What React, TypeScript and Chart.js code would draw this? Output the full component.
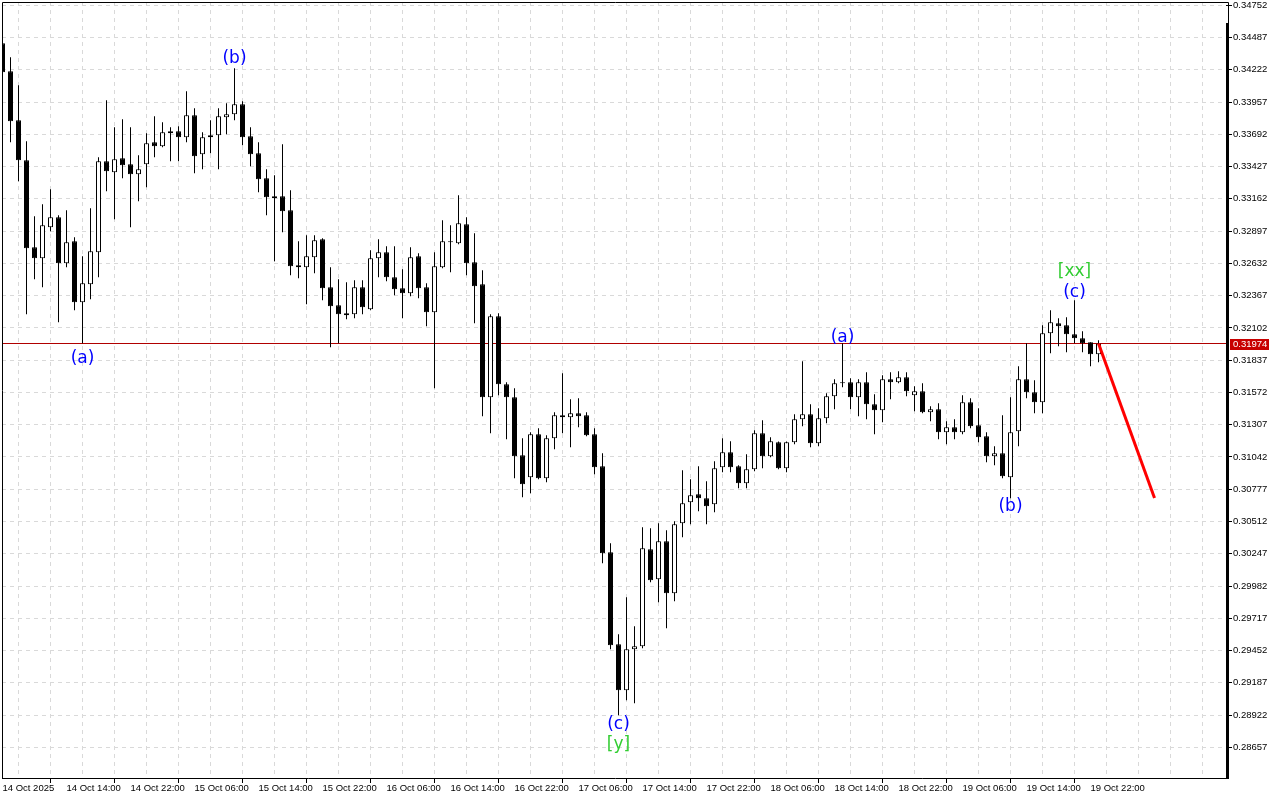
import React, { useEffect, useRef } from "react";
import { Chart, registerables } from "chart.js";

Chart.register(...registerables);

// x-axis labels, one every 8 hourly bars (bar 0 = 14 Oct 06:00)
const xTickLabels = [
  "14 Oct 2025", "14 Oct 14:00", "14 Oct 22:00", "15 Oct 06:00", "15 Oct 14:00",
  "15 Oct 22:00", "16 Oct 06:00", "16 Oct 14:00", "16 Oct 22:00", "17 Oct 06:00",
  "17 Oct 14:00", "17 Oct 22:00", "18 Oct 06:00", "18 Oct 14:00", "18 Oct 22:00",
  "19 Oct 06:00", "19 Oct 14:00", "19 Oct 22:00",
];

const yTickValues = [
  0.34752, 0.34487, 0.34222, 0.33957, 0.33692, 0.33427, 0.33162, 0.32897,
  0.32632, 0.32367, 0.32102, 0.31837, 0.31572, 0.31307, 0.31042, 0.30777,
  0.30512, 0.30247, 0.29982, 0.29717, 0.29452, 0.29187, 0.28922, 0.28657,
];

const opens = [
  0.34440, 0.34210, 0.33807, 0.33479, 0.32764, 0.32674, 0.32928, 0.33011, 0.32633, 0.32813,
  0.32312, 0.32460, 0.32723, 0.33471, 0.33380, 0.33495, 0.33446, 0.33364, 0.33446, 0.33627,
  0.33594, 0.33701, 0.33717, 0.33668, 0.33848, 0.33528, 0.33668, 0.33684, 0.33832, 0.33857,
  0.33939, 0.33676, 0.33536, 0.33331, 0.33183, 0.33183, 0.33068, 0.32616, 0.32600, 0.32682,
  0.32830, 0.32436, 0.32288, 0.32222, 0.32214, 0.32436, 0.32255, 0.32674, 0.32723, 0.32518,
  0.32427, 0.32386, 0.32690, 0.32436, 0.32230, 0.32600, 0.32813, 0.32797, 0.32953, 0.32641,
  0.32460, 0.31532, 0.32197, 0.31639, 0.31532, 0.31056, 0.30875, 0.31228, 0.30867, 0.31195,
  0.31384, 0.31368, 0.31401, 0.31384, 0.31228, 0.30965, 0.30259, 0.29503, 0.29125, 0.29462,
  0.29487, 0.30284, 0.30037, 0.30349, 0.29922, 0.30497, 0.30670, 0.30735, 0.30702, 0.30653,
  0.30957, 0.31080, 0.30965, 0.30826, 0.30941, 0.31236, 0.31047, 0.31162, 0.30949, 0.31162,
  0.31351, 0.31392, 0.31154, 0.31360, 0.31540, 0.31655, 0.31655, 0.31532, 0.31655, 0.31475,
  0.31425, 0.31680, 0.31655, 0.31696, 0.31548, 0.31581, 0.31409, 0.31433, 0.31245, 0.31286,
  0.31245, 0.31491, 0.31302, 0.31212, 0.31047, 0.31072, 0.30875, 0.31253, 0.31680, 0.31573,
  0.31491, 0.32058, 0.32140, 0.32123, 0.32050, 0.32017, 0.31984, 0.31885,
];

const highs = [
  0.34448, 0.34325, 0.34095, 0.33635, 0.33019, 0.33117, 0.33241, 0.33027, 0.33068, 0.32846,
  0.32690, 0.33084, 0.33503, 0.33972, 0.33750, 0.33816, 0.33750, 0.33520, 0.33701, 0.33840,
  0.33791, 0.33750, 0.33758, 0.34046, 0.33906, 0.33709, 0.33807, 0.33906, 0.33947, 0.34234,
  0.33963, 0.33750, 0.33627, 0.33405, 0.33356, 0.33610, 0.33232, 0.32813, 0.32863, 0.32863,
  0.32838, 0.32600, 0.32501, 0.32477, 0.32493, 0.32493, 0.32739, 0.32830, 0.32772, 0.32772,
  0.32583, 0.32764, 0.32715, 0.32468, 0.32723, 0.32986, 0.32945, 0.33191, 0.33011, 0.32879,
  0.32575, 0.32214, 0.32222, 0.31655, 0.31606, 0.31195, 0.31245, 0.31277, 0.31220, 0.31409,
  0.31729, 0.31516, 0.31524, 0.31409, 0.31277, 0.31072, 0.30333, 0.29585, 0.29889, 0.29651,
  0.30464, 0.30456, 0.30497, 0.30440, 0.30514, 0.30932, 0.30858, 0.30965, 0.30842, 0.31006,
  0.31195, 0.31171, 0.30973, 0.31064, 0.31261, 0.31343, 0.31203, 0.31170, 0.31170, 0.31392,
  0.31828, 0.31475, 0.31442, 0.31565, 0.31680, 0.31976, 0.31688, 0.31680, 0.31737, 0.31557,
  0.31713, 0.31737, 0.31746, 0.31737, 0.31622, 0.31647, 0.31458, 0.31483, 0.31335, 0.31351,
  0.31548, 0.31524, 0.31442, 0.31245, 0.31130, 0.31384, 0.31532, 0.31787, 0.31976, 0.31672,
  0.32123, 0.32247, 0.32181, 0.32189, 0.32329, 0.32074, 0.31984, 0.32000,
];

const lows = [
  0.34193, 0.33627, 0.33306, 0.32214, 0.32501, 0.32436, 0.32896, 0.32148, 0.32600, 0.32247,
  0.31976, 0.32337, 0.32518, 0.33224, 0.32994, 0.33331, 0.32928, 0.33142, 0.33257, 0.33503,
  0.33586, 0.33471, 0.33471, 0.33627, 0.33372, 0.33405, 0.33536, 0.33405, 0.33692, 0.33807,
  0.33602, 0.33429, 0.33216, 0.33027, 0.32649, 0.32887, 0.32534, 0.32510, 0.32296, 0.32551,
  0.32329, 0.31943, 0.31976, 0.32173, 0.32181, 0.32214, 0.32247, 0.32518, 0.32485, 0.32370,
  0.32181, 0.32362, 0.32345, 0.32115, 0.31606, 0.32592, 0.32559, 0.32789, 0.32534, 0.32140,
  0.31376, 0.31236, 0.31548, 0.31187, 0.30867, 0.30711, 0.30743, 0.30858, 0.30834, 0.31105,
  0.31236, 0.31121, 0.31286, 0.31212, 0.30900, 0.30169, 0.29462, 0.28920, 0.29043, 0.29019,
  0.29470, 0.30012, 0.29848, 0.29635, 0.29856, 0.30382, 0.30489, 0.30596, 0.30489, 0.30587,
  0.30916, 0.30916, 0.30785, 0.30785, 0.30924, 0.30949, 0.31039, 0.30941, 0.30916, 0.31146,
  0.31294, 0.31121, 0.31130, 0.31318, 0.31433, 0.31614, 0.31433, 0.31376, 0.31351, 0.31228,
  0.31327, 0.31516, 0.31647, 0.31540, 0.31417, 0.31401, 0.31335, 0.31187, 0.31146, 0.31187,
  0.31228, 0.31277, 0.31162, 0.30998, 0.30973, 0.30867, 0.30702, 0.31130, 0.31524, 0.31401,
  0.31401, 0.31893, 0.31951, 0.31902, 0.31976, 0.31902, 0.31787, 0.31820,
];

const closes = [
  0.34202, 0.33799, 0.33479, 0.32756, 0.32674, 0.32945, 0.33011, 0.32633, 0.32805, 0.32312,
  0.32468, 0.32731, 0.33471, 0.33388, 0.33487, 0.33438, 0.33364, 0.33405, 0.33618, 0.33594,
  0.33709, 0.33717, 0.33668, 0.33848, 0.33512, 0.33668, 0.33684, 0.33840, 0.33857, 0.33939,
  0.33668, 0.33528, 0.33323, 0.33175, 0.33167, 0.33060, 0.32608, 0.32600, 0.32690, 0.32822,
  0.32427, 0.32280, 0.32214, 0.32206, 0.32436, 0.32271, 0.32674, 0.32723, 0.32518, 0.32419,
  0.32386, 0.32682, 0.32427, 0.32230, 0.32608, 0.32813, 0.32805, 0.32961, 0.32633, 0.32444,
  0.31532, 0.32197, 0.31639, 0.31532, 0.31047, 0.30817, 0.31228, 0.30867, 0.31195, 0.31384,
  0.31368, 0.31401, 0.31376, 0.31220, 0.30957, 0.30251, 0.29495, 0.29125, 0.29462, 0.29487,
  0.30292, 0.30029, 0.30349, 0.29922, 0.30489, 0.30661, 0.30727, 0.30702, 0.30637, 0.30949,
  0.31080, 0.30957, 0.30826, 0.30941, 0.31236, 0.31047, 0.31171, 0.30949, 0.31162, 0.31351,
  0.31392, 0.31154, 0.31360, 0.31540, 0.31647, 0.31647, 0.31532, 0.31655, 0.31475, 0.31425,
  0.31680, 0.31655, 0.31696, 0.31581, 0.31581, 0.31409, 0.31433, 0.31245, 0.31286, 0.31245,
  0.31491, 0.31294, 0.31203, 0.31047, 0.31072, 0.30883, 0.31245, 0.31680, 0.31573, 0.31491,
  0.32058, 0.32148, 0.32115, 0.32050, 0.32017, 0.31976, 0.31885, 0.31974,
];

const lastPrice = 0.31974;

// red projection line
const forecastBars = [137, 144];
const forecastPrices = [0.31974, 0.30705];

// wave labels
const waveTexts = ["(a)", "(b)", "(c)", "[y]", "(a)", "(b)", "(c)", "[xx]"];
const waveBars = [10, 29, 77, 77, 105, 126, 134, 134];
const wavePrices = [0.31850, 0.34314, 0.28846, 0.28676, 0.32023, 0.30631, 0.32389, 0.32561];
const waveColors = ["#0000ff", "#0000ff", "#0000ff", "#32cd32", "#0000ff", "#0000ff", "#0000ff", "#32cd32"];

const X_MIN = -0.0625;
const X_MAX = 152.9375;
const Y_MIN = 0.2840495;
const Y_MAX = 0.3477915;
const AXIS_FONT = "Liberation Sans";
const GRID_COLOR = "#d9d9d9";

export default function App() {
  const ref = useRef<HTMLCanvasElement | null>(null);

  useEffect(() => {
    const canvas = ref.current;
    if (!canvas) return;
    const idx = closes.map((_, i) => i);
    const bodyData = idx.map((i) => ({ x: i, y: [opens[i], closes[i]] }));
    const wickData = idx.map((i) => ({ x: i, y: [lows[i], highs[i]] }));
    const bodyFill = idx.map((i) => (closes[i] >= opens[i] ? "#ffffff" : "#000000"));

    const framePlugin = {
      id: "frame",
      afterDraw(chart: any) {
        const { ctx, chartArea: a } = chart;
        ctx.save();
        ctx.strokeStyle = "#000";
        ctx.lineWidth = 1;
        ctx.beginPath();
        ctx.moveTo(a.left + 0.5, a.bottom + 0.5);
        ctx.lineTo(a.left + 0.5, a.top + 0.5);
        ctx.lineTo(a.right + 2.5, a.top + 0.5);
        ctx.lineTo(a.right + 2.5, a.top + 21);
        ctx.moveTo(a.left, a.bottom + 0.5);
        ctx.lineTo(a.right + 3, a.bottom + 0.5);
        ctx.stroke();
        ctx.fillStyle = "#000";
        ctx.fillRect(a.right, a.top + 21, 3, a.bottom - a.top - 20);
        // price tag on the axis
        const y = chart.scales.y.getPixelForValue(lastPrice);
        const yi = Math.floor(y);
        ctx.fillStyle = "#c80000";
        ctx.fillRect(a.right + 4, yi - 4, 39, 11);
        ctx.fillStyle = "#ffffff";
        ctx.font = `9.5px "${AXIS_FONT}"`;
        ctx.textAlign = "left";
        ctx.textBaseline = "middle";
        ctx.fillText(lastPrice.toFixed(5), a.right + 7, yi + 1.5);
        ctx.restore();
      },
    };

    const wavePlugin = {
      id: "waves",
      afterDatasetsDraw(chart: any) {
        const { ctx } = chart;
        const xs = chart.scales.x;
        const ys = chart.scales.y;
        ctx.save();
        ctx.font = `17px "DejaVu Sans"`;
        ctx.textAlign = "center";
        ctx.textBaseline = "middle";
        waveTexts.forEach((t, k) => {
          ctx.fillStyle = waveColors[k];
          ctx.fillText(t, xs.getPixelForValue(waveBars[k]), ys.getPixelForValue(wavePrices[k]));
        });
        ctx.restore();
      },
    };

    const chart = new Chart(canvas, {
      type: "bar",
      data: {
        datasets: [
          {
            type: "line",
            data: forecastBars.map((b, k) => ({ x: b, y: forecastPrices[k] })),
            borderColor: "#ff0000",
            borderWidth: 3,
            pointRadius: 0,
            order: 0,
          } as any,
          {
            type: "bar",
            data: bodyData,
            backgroundColor: bodyFill,
            borderColor: "#000000",
            borderWidth: 1,
            borderSkipped: false,
            grouped: false,
            barThickness: 5,
            maxBarThickness: 5,
            minBarLength: 1,
            inflateAmount: 0,
            order: 1,
          } as any,
          {
            type: "bar",
            data: wickData,
            backgroundColor: "#000000",
            borderWidth: 0,
            grouped: false,
            barThickness: 1,
            maxBarThickness: 1,
            minBarLength: 1,
            inflateAmount: 0,
            order: 2,
          } as any,
          {
            type: "line",
            data: [
              { x: X_MIN, y: lastPrice },
              { x: X_MAX, y: lastPrice },
            ],
            borderColor: "#b00000",
            borderWidth: 1,
            pointRadius: 0,
            order: 10,
          } as any,
        ],
      },
      options: {
        responsive: false,
        devicePixelRatio: 1,
        animation: false,
        events: [],
        layout: { padding: { left: 2, top: 2, right: 0, bottom: 0 } },
        plugins: { legend: { display: false }, tooltip: { enabled: false } },
        scales: {
          x: {
            type: "linear",
            position: "bottom",
            min: X_MIN,
            max: X_MAX,
            offset: false,
            afterBuildTicks: (s: any) => {
              const t: any[] = [];
              for (let v = 0; v <= 152; v += 4) t.push({ value: v });
              s.ticks = t;
            },
            afterFit: (s: any) => {
              s.height = 22;
              s.paddingLeft = 0;
              s.paddingRight = 0;
            },
            grid: {
              display: true,
              color: GRID_COLOR,
              lineWidth: 1,
              drawTicks: true,
              tickLength: 5,
              tickColor: (c: any) =>
                c.tick && c.tick.value % 8 === 0 && c.tick.value / 8 < xTickLabels.length ? "#000" : "rgba(0,0,0,0)",
            },
            border: { display: false, dash: [4, 4] },
            ticks: {
              autoSkip: false,
              maxRotation: 0,
              minRotation: 0,
              align: "start",
              padding: 0,
              color: "#000",
              font: { family: AXIS_FONT, size: 9.5 },
              callback: (v: any) => {
                const n = Number(v);
                return n % 8 === 0 && n / 8 < xTickLabels.length ? xTickLabels[n / 8] : "";
              },
            },
          },
          y: {
            type: "linear",
            position: "right",
            min: Y_MIN,
            max: Y_MAX,
            afterBuildTicks: (s: any) => {
              s.ticks = yTickValues.map((v) => ({ value: v }));
            },
            afterFit: (s: any) => {
              s.width = 54;
              s.paddingTop = 0;
              s.paddingBottom = 0;
            },
            grid: {
              display: true,
              color: GRID_COLOR,
              lineWidth: 1,
              drawTicks: true,
              tickLength: 6,
              tickColor: "#000",
            },
            border: { display: false, dash: [4, 4] },
            ticks: {
              autoSkip: false,
              padding: 1,
              color: "#000",
              font: { family: AXIS_FONT, size: 9.5 },
              callback: (v: any) => Number(v).toFixed(5),
            },
          },
        },
      } as any,
      plugins: [wavePlugin, framePlugin],
    });

    return () => chart.destroy();
  }, []);

  return (
    <div style={{ position: "fixed", left: 0, top: 0, width: 1280, height: 800, background: "#ffffff" }}>
      <canvas ref={ref} width={1280} height={800} style={{ display: "block", width: 1280, height: 800 }} />
    </div>
  );
}
